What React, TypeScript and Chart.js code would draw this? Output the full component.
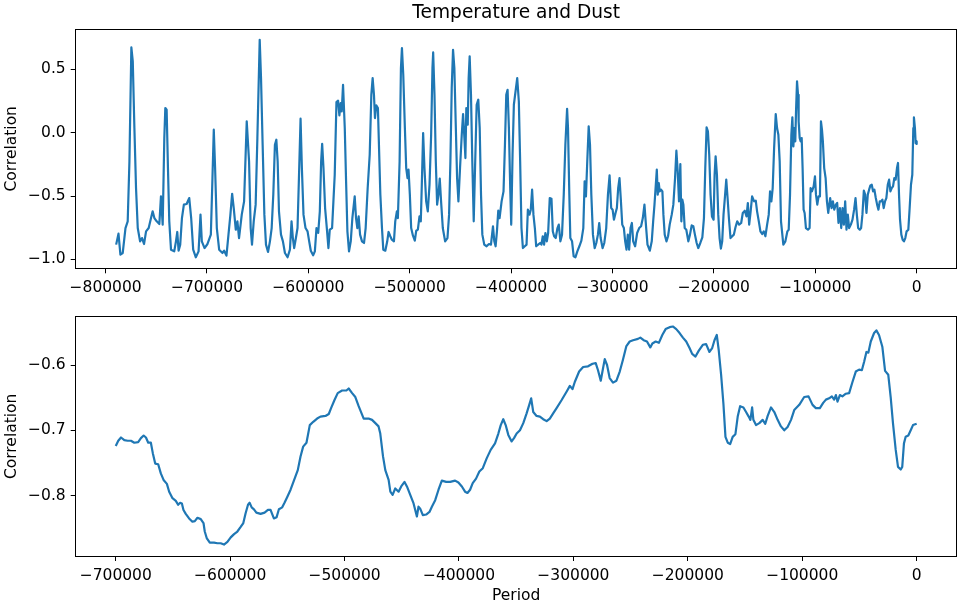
import { useEffect, useRef } from "react";
import { Chart, registerables } from "chart.js";

Chart.register(...registerables);

// Upper panel: running correlation of temperature and dust (years before present)
const tempDustYears = [
  -789600, -787300, -785400, -783100, -780400, -778200, -776500, -774600, -773200, -771600,
  -770000, -768300, -766000, -764100, -762100, -760100, -757500, -755200, -753600, -751900,
  -749600, -747000, -745400, -743700, -742100, -741100, -739800, -738500, -737200, -735500,
  -732300, -730600, -729300, -728000, -726400, -724700, -722800, -720100, -717500, -715600,
  -713600, -711000, -708300, -706400, -705100, -702400, -699500, -696200, -694600, -693300,
  -692000, -690300, -688000, -684700, -683100, -680800, -678800, -676900, -675200, -673600,
  -671600, -670000, -668400, -665700, -663400, -660800,
  -658500, -656900, -655600, -653900, -652000, -650300, -648000, -646700, -645100, -643400,
  -641800, -639800, -637900, -636200, -634600, -633000, -631600, -630300, -629000, -627000,
  -625100, -623100, -620500, -618200, -616600, -615300, -614000, -612300, -610700, -609300,
  -607700, -606400, -604800, -602800, -600800, -599200, -597600, -595300, -593600, -592000,
  -590300, -588700, -587400, -586400, -585100, -583500, -581800, -580200, -578900, -576600,
  -575300, -574000, -572300, -570700, -569400, -568100, -567100, -565800, -564100, -562800,
  -561500, -559900, -558200, -556600, -554300, -553000, -551700, -550400, -549000, -547100,
  -545100, -543500, -541500, -539500, -537900, -536600, -535300, -534300, -533000, -531400,
  -529000, -527400, -526100, -524100, -522200, -520900, -519200, -517600, -515600, -514300,
  -512700, -511700, -510000, -508700, -507700, -506400, -504800, -503500, -502200, -501200,
  -499900, -498600, -496900, -495000, -493600, -492000, -490400, -489100, -488100, -486800,
  -485500, -483800, -482200, -480500, -478900, -477600, -476900, -475600, -474300, -473000,
  -471700, -470400, -469100, -467400, -465100, -462800, -461200, -459900, -458600, -457300,
  -456000, -454700, -453300, -452000, -450400, -448700, -447400, -446100, -445100, -444200,
  -442800, -441900, -440900, -439600, -438300, -436900, -435600, -434000, -432400, -431000,
  -429700, -428400, -426500, -424200, -421900, -419900, -417900, -416600, -415300, -414000,
  -412700, -411400, -409400, -407500, -406100, -404800, -403500, -402200, -400900, -399900,
  -398600, -397300,
  -394000, -392400, -391100, -389800, -388400, -386500, -384800, -383500, -381900, -380600,
  -379300, -378000, -376600, -375300, -373400, -371400, -370100, -368800, -367500, -366200,
  -364800, -363500, -361900, -360200, -358900, -357600, -356000, -354300, -353000, -351400,
  -349800, -348100, -346500, -344800, -343900, -342600, -341600, -339900, -338300, -336600,
  -334700, -332700, -330700, -328800, -327500, -326200, -324900, -323500, -322200, -320900,
  -319300, -317600, -316000, -314400, -313100, -311700, -309800, -308100, -306200, -304500,
  -302900, -301300, -299900, -298600, -297000, -295700, -294400, -293100, -291700, -290400,
  -288800, -287500, -286200, -284900, -283600, -282200, -280900, -279600, -277700, -275700,
  -273700, -271800, -270100, -268500, -266800, -265500,
  -263200, -261300, -259900, -258600, -257300, -256300, -255400, -254400, -253400, -252100,
  -250800, -249800, -248500, -246800, -245200, -243600, -241600, -240000, -238300, -237000,
  -235700, -234400, -233100, -232100, -231100, -230100, -228800, -227200, -225200, -223600,
  -221900, -220300, -218700, -217000, -215400, -213400, -211400, -209800, -208500, -207200,
  -205900, -204600, -203300, -201900, -200300, -199300, -198300, -197000, -195700, -194400,
  -193100, -191800, -190500, -189200, -187800, -186500, -185200, -183600, -181900, -180300,
  -178700, -177000, -175100, -173100, -171500, -169500, -167800, -166500, -165200, -163900,
  -162300, -160300, -158700, -157400, -155700, -154100, -152400, -150800, -149200, -147500,
  -145900, -144600, -143300, -142000, -140600, -139000, -137700, -136400, -135100, -133800,
  -131500, -129500, -127500, -126200, -124900, -123600, -122600, -121600, -120700, -119700,
  -119000, -118000, -117000, -116400, -115400, -114400, -113400, -112500, -111500, -110500,
  -109200, -107200, -105600, -104600, -103300, -101600, -100300, -99300, -98000, -96700,
  -95400, -94400, -93400, -92500, -91200, -89800, -88500, -87200, -86200, -85300,
  -83900, -82600, -81300, -79700, -78400, -77100, -75700, -74400, -73100, -71800,
  -70500, -69200, -67900, -66600, -64900, -63300, -61700, -60300, -59000, -57700,
  -56100, -54800, -53500, -52100, -50800, -49500, -48200, -46900, -45600, -44300,
  -43000, -41700, -40300, -39000, -37700, -36400, -35100, -33800, -32500, -31200,
  -29900, -28500, -27200, -25900, -24600, -23300, -22000, -20700, -19400, -18400,
  -17400, -16400, -15100, -13800, -12500, -11200, -9900, -8200, -6900, -5600,
  -4300, -3300, -2700, -1700, -1000, -500, 0,
];

const tempDustCorr = [
  -0.884, -0.797, -0.963, -0.95, -0.753, -0.7, -0.226, 0.674, 0.563, 0.037,
  -0.437, -0.753, -0.858, -0.832, -0.879, -0.779, -0.753, -0.674, -0.621, -0.674,
  -0.7, -0.721, -0.503, -0.726, -0.042, 0.195, 0.182, -0.279, -0.7, -0.924,
  -0.937, -0.858, -0.784, -0.932, -0.884, -0.674, -0.568, -0.563, -0.516, -0.674,
  -0.924, -0.984, -0.937, -0.647, -0.858, -0.911, -0.879, -0.805, -0.358, 0.024,
  -0.279, -0.753, -0.924, -0.95, -0.932, -0.971, -0.805, -0.647, -0.482, -0.595,
  -0.766, -0.7, -0.832, -0.647, -0.542, 0.09,
  -0.226, -0.753, -0.884, -0.7, -0.568, -0.042, 0.734, 0.432, -0.095, -0.647,
  -0.884, -0.942, -0.858, -0.753, -0.489, -0.095, -0.055, -0.226, -0.621, -0.805,
  -0.858, -0.95, -0.984, -0.924, -0.7, -0.832, -0.911, -0.832, -0.753, -0.358,
  0.111, -0.279, -0.647, -0.753, -0.779, -0.858, -0.932, -0.968, -0.937, -0.753,
  -0.792, -0.621, -0.226, -0.087, -0.279, -0.595, -0.753, -0.911, -0.766, -0.753,
  -0.542, -0.332, 0.242, 0.253, 0.137, 0.234, 0.168, 0.379, 0.037, -0.384,
  -0.779, -0.937, -0.858, -0.674, -0.503, -0.674, -0.753, -0.661, -0.805, -0.858,
  -0.871, -0.753, -0.437, -0.174, 0.3, 0.432, 0.3, 0.116, 0.216, 0.195,
  -0.489, -0.753, -0.924, -0.932, -0.858, -0.784, -0.818, -0.845, -0.858, -0.7,
  -0.621, -0.674, -0.226, 0.511, 0.668, 0.458, 0.037, -0.279, -0.358, -0.292,
  -0.489, -0.753, -0.811, -0.853, -0.774, -0.766, -0.661, -0.7, -0.411, -0.003,
  -0.279, -0.542, -0.621, -0.411, -0.016, 0.511, 0.634, 0.3, -0.226, -0.568,
  -0.489, -0.363, -0.542, -0.753, -0.858, -0.832, -0.647, -0.226, 0.353, 0.655,
  0.511, 0.089, -0.358, -0.542, -0.279, -0.016, 0.147, -0.042, -0.2, 0.195,
  0.063, 0.432, 0.603, 0.3, -0.226, -0.7, -0.279, 0.221, 0.261, 0.037,
  -0.489, -0.805, -0.884, -0.897, -0.879, -0.884, -0.739, -0.858, -0.897, -0.779,
  -0.616, -0.674, -0.542, -0.463, -0.095, 0.3, 0.339, 0.037, -0.437, -0.726,
  -0.174, 0.221,
  0.432, 0.247, -0.226, -0.753, -0.911, -0.897, -0.884, -0.608, -0.647, -0.608,
  -0.45, -0.647, -0.753, -0.897, -0.884, -0.871, -0.884, -0.818, -0.884, -0.792,
  -0.858, -0.792, -0.516, -0.521, -0.779, -0.818, -0.832, -0.753, -0.726, -0.858,
  -0.805, -0.489, -0.095, 0.189, 0.037, -0.489, -0.832, -0.858, -0.976, -0.984,
  -0.937, -0.897, -0.853, -0.753, -0.384, -0.503, -0.226, 0.05, -0.095, -0.489,
  -0.805, -0.911, -0.871, -0.805, -0.713, -0.832, -0.911, -0.871, -0.753, -0.489,
  -0.337, -0.595, -0.608, -0.687, -0.634, -0.595, -0.437, -0.358, -0.542, -0.726,
  -0.753, -0.858, -0.924, -0.805, -0.924, -0.753, -0.713, -0.858, -0.897, -0.792,
  -0.753, -0.739, -0.674, -0.568, -0.753, -0.884,
  -0.932, -0.858, -0.7, -0.568, -0.411, -0.292, -0.489, -0.397, -0.463, -0.45,
  -0.463, -0.647, -0.805, -0.858, -0.818, -0.726, -0.647, -0.568, -0.358, -0.142,
  -0.305, -0.542, -0.247, -0.7, -0.529, -0.568, -0.753, -0.766, -0.858, -0.805,
  -0.732, -0.739, -0.805, -0.871, -0.911, -0.871, -0.826, -0.674, -0.279, 0.042,
  0.011, -0.174, -0.489, -0.661, -0.687, -0.332, -0.187, -0.332, -0.647, -0.832,
  -0.916, -0.858, -0.647, -0.516, -0.371, -0.516, -0.674, -0.832, -0.818, -0.805,
  -0.747, -0.7, -0.726, -0.713, -0.634, -0.616, -0.661, -0.555, -0.726, -0.634,
  -0.503, -0.542, -0.537, -0.621, -0.7, -0.779, -0.8, -0.779, -0.818, -0.726,
  -0.647, -0.463, -0.542, -0.437, -0.121, 0.147, 0.037, -0.016, -0.226, -0.7,
  -0.884, -0.858, -0.779, -0.766, -0.489, -0.016, 0.121, -0.108, 0.037, -0.068,
  0.168, 0.405, 0.3, 0.089, -0.042, -0.068, -0.042, -0.279, -0.608, -0.634,
  -0.753, -0.766, -0.753, -0.437, -0.463, -0.424, -0.345, -0.489, -0.568, -0.503,
  -0.503, 0.089, 0.024, -0.068, -0.279, -0.358, -0.542, -0.634, -0.568, -0.516,
  -0.595, -0.542, -0.608, -0.568, -0.555, -0.713, -0.595, -0.753, -0.595, -0.726,
  -0.542, -0.766, -0.647, -0.753, -0.726, -0.687, -0.608, -0.516, -0.647, -0.753,
  -0.766, -0.753, -0.647, -0.458, -0.489, -0.634, -0.489, -0.45, -0.416, -0.411,
  -0.463, -0.45, -0.516, -0.568, -0.608, -0.542, -0.542, -0.529, -0.595, -0.542,
  -0.516, -0.411, -0.371, -0.463, -0.437, -0.424, -0.358, -0.371, -0.279, -0.239,
  -0.489, -0.687, -0.805, -0.845, -0.858, -0.832, -0.779, -0.766, -0.595, -0.411,
  -0.332, 0.037, 0.121, 0.037, -0.082, -0.068, -0.089,
];

// Lower panel: windowed correlation by period
const periodYears = [
  -700000, -697800, -695400, -692500, -689600, -686700, -683800, -680400, -678000, -675600,
  -673600, -671600, -669300, -667600, -665500, -662900, -660600, -658200, -655300, -653300,
  -650400, -647500, -645500, -643700, -642200, -640800, -638800, -635900, -633000, -630900,
  -628600, -625700, -623300, -622200, -620500, -617800, -614100, -611100, -608300, -605400,
  -602400, -599500, -596600, -593700, -590800, -588500, -586500, -584400, -583000, -581200,
  -579200, -577100, -573400, -569900, -567000, -564700, -561800, -559400, -557400, -554500,
  -552500, -550100, -547200, -544300, -540900, -538500, -536200, -533300, -530400, -527400,
  -524000, -521100, -516700, -513800, -511800, -508900, -506000, -502200, -498400, -496400,
  -493400, -490600, -487700, -483300, -479000, -476000, -473100, -470300, -468800, -466400,
  -464400, -461500, -460000, -458000, -455700, -452800, -450500, -447600, -445500, -442600,
  -439700, -436800, -435400, -433900, -431600, -428700, -425800, -423700, -420800, -417900,
  -415000, -411200, -407700, -403400, -400500, -397500, -394700, -392600, -390300, -388000,
  -385100, -382200, -379200, -375800, -372300, -368500, -365600, -363500, -361300, -359200,
  -356900, -354000, -351900, -349600, -346700, -343800, -340900, -338600, -336900, -335100,
  -332200, -329300, -326400, -323400, -320600, -317700, -314700, -310400, -306000, -303100,
  -300800, -298800, -295000, -291500, -287200, -283300, -280500, -278500, -276100, -274100,
  -272600, -270600, -268300, -265400, -262400, -259500, -256700, -253700, -250800, -247900,
  -243600, -241500, -238600, -235700, -232800, -231000, -228100, -225300, -222300, -219400,
  -215900, -213100, -210100, -207200, -204300, -201400, -198500, -196200, -193300, -190400,
  -186900, -184000, -181100, -178700, -176700, -174700, -173000, -170900, -168900, -167100,
  -165100, -163000, -160800, -158400, -156400, -154300, -151400, -149100, -146800, -145300,
  -143800, -142700, -140400, -137500, -134600, -132300, -130200, -127300, -124400, -121500,
  -118600, -115700, -112800, -109800, -107000, -102600, -98300, -94500, -91000, -88100,
  -84600, -81700, -79300, -76500, -74100, -72100, -70600, -69200, -67100, -64900,
  -61900, -59000, -56100, -53200, -50300, -47900, -45900, -43900, -42200, -40100,
  -37200, -35200, -32900, -30000, -27600, -24800, -22700, -20700, -18300, -16300,
  -13900, -12600, -11100, -9600, -7300, -5200, -3200, 0,
];

const periodCorr = [
  -0.724, -0.716, -0.711, -0.715, -0.716, -0.716, -0.719, -0.718, -0.712, -0.708,
  -0.711, -0.719, -0.719, -0.735, -0.751, -0.752, -0.766, -0.776, -0.782, -0.794,
  -0.804, -0.808, -0.814, -0.811, -0.812, -0.822, -0.828, -0.835, -0.84, -0.839,
  -0.834, -0.836, -0.842, -0.855, -0.865, -0.872, -0.872, -0.873, -0.873, -0.875,
  -0.871, -0.864, -0.859, -0.855, -0.848, -0.842, -0.827, -0.814, -0.811, -0.818,
  -0.821, -0.826, -0.828, -0.826, -0.822, -0.822, -0.835, -0.833, -0.821, -0.818,
  -0.811, -0.802, -0.791, -0.777, -0.761, -0.74, -0.725, -0.719, -0.692, -0.687,
  -0.682, -0.679, -0.678, -0.675, -0.666, -0.654, -0.643, -0.639, -0.639, -0.636,
  -0.643, -0.649, -0.663, -0.682, -0.682, -0.684, -0.689, -0.694, -0.705, -0.74,
  -0.761, -0.776, -0.794, -0.799, -0.789, -0.794, -0.786, -0.779, -0.786, -0.799,
  -0.812, -0.832, -0.817, -0.82, -0.83, -0.829, -0.825, -0.817, -0.807, -0.791,
  -0.777, -0.779, -0.779, -0.777, -0.78, -0.786, -0.794, -0.796, -0.791, -0.781,
  -0.774, -0.763, -0.758, -0.743, -0.73, -0.72, -0.705, -0.692, -0.683, -0.692,
  -0.707, -0.717, -0.712, -0.705, -0.7, -0.689, -0.674, -0.661, -0.651, -0.672,
  -0.678, -0.679, -0.683, -0.686, -0.682, -0.674, -0.666, -0.654, -0.641, -0.632,
  -0.637, -0.626, -0.61, -0.603, -0.602, -0.598, -0.597, -0.608, -0.624, -0.605,
  -0.591, -0.6, -0.62, -0.627, -0.624, -0.61, -0.592, -0.571, -0.564, -0.562,
  -0.56, -0.558, -0.562, -0.564, -0.573, -0.567, -0.564, -0.566, -0.554, -0.545,
  -0.542, -0.541, -0.545, -0.551, -0.558, -0.564, -0.574, -0.583, -0.587, -0.578,
  -0.569, -0.568, -0.58, -0.574, -0.562, -0.554, -0.577, -0.615, -0.659, -0.71,
  -0.719, -0.721, -0.71, -0.706, -0.679, -0.663, -0.665, -0.672, -0.679, -0.684,
  -0.665, -0.684, -0.692, -0.689, -0.684, -0.69, -0.678, -0.665, -0.672, -0.684,
  -0.694, -0.7, -0.695, -0.684, -0.669, -0.661, -0.649, -0.648, -0.661, -0.666,
  -0.666, -0.658, -0.653, -0.651, -0.648, -0.653, -0.646, -0.656, -0.646, -0.648,
  -0.644, -0.643, -0.626, -0.61, -0.607, -0.608, -0.595, -0.58, -0.581, -0.564,
  -0.551, -0.547, -0.554, -0.572, -0.609, -0.615, -0.649, -0.689, -0.73, -0.756,
  -0.76, -0.756, -0.72, -0.71, -0.708, -0.7, -0.692, -0.69,
];

// Axis ticks
const upperXTicks = [-800000, -700000, -600000, -500000, -400000, -300000, -200000, -100000, 0];
const upperYTicks = [-1.0, -0.5, 0.0, 0.5];
const lowerXTicks = [-700000, -600000, -500000, -400000, -300000, -200000, -100000, 0];
const lowerYTicks = [-0.8, -0.7, -0.6];

const LINE_COLOR = "#1f77b4";
const FONT_FAMILY = "'DejaVu Sans', 'Liberation Sans', sans-serif";
const TICK_FONT = 15.5;
const TITLE_FONT = 18.6;
const WIDTH = 958;
const AXIS_WIDTH = 75.7;
const AREA_RIGHT = 956.7;

const withMinus = (digits: number) => (v: number | string) => {
  const n = Number(v);
  const s = Math.abs(n).toFixed(digits);
  return n < 0 ? "\u2212" + s : s;
};

// Draws the four spines around the plotting area
const framePlugin = {
  id: "axesFrame",
  afterDraw(chart: any) {
    const { ctx, chartArea } = chart;
    const l = Math.floor(chartArea.left) + 0.5;
    const t = Math.floor(chartArea.top) + 0.5;
    const r = Math.floor(chartArea.right) + 0.5;
    const b = Math.floor(chartArea.bottom) + 0.5;
    ctx.save();
    ctx.strokeStyle = "#000";
    ctx.lineWidth = 1;
    ctx.strokeRect(l, t, r - l, b - t);
    ctx.restore();
  },
};

type PanelSpec = {
  xs: number[];
  ys: number[];
  xMin: number;
  xMax: number;
  yMin: number;
  yMax: number;
  xTicks: number[];
  yTicks: number[];
  yDigits: number;
  height: number;
  areaTop: number;
  areaBottom: number;
  title?: string;
  xTitle?: string;
};

function buildConfig(p: PanelSpec): any {
  const points = p.xs.map((x, i) => ({ x, y: p.ys[i] }));
  const tickFont = { family: FONT_FAMILY, size: TICK_FONT };
  const titleLine = TITLE_FONT * 1.2;
  return {
    type: "line",
    data: {
      datasets: [
        {
          data: points,
          borderColor: LINE_COLOR,
          borderWidth: 2.2,
          pointRadius: 0,
          tension: 0,
          borderJoinStyle: "round",
          fill: false,
        },
      ],
    },
    options: {
      responsive: false,
      animation: false,
      devicePixelRatio: 1,
      layout: {
        padding: { left: 0, right: WIDTH - AREA_RIGHT, top: p.title ? 0 : p.areaTop, bottom: 0 },
      },
      plugins: {
        legend: { display: false },
        tooltip: { enabled: false },
        title: p.title
          ? {
              display: true,
              text: p.title,
              color: "#000",
              fullSize: false,
              font: { family: FONT_FAMILY, size: TITLE_FONT, weight: "normal" },
              padding: { top: 2.0, bottom: p.areaTop - 2.0 - titleLine },
            }
          : { display: false },
      },
      scales: {
        x: {
          type: "linear",
          min: p.xMin,
          max: p.xMax,
          afterBuildTicks: (s: any) => {
            s.ticks = p.xTicks.map((value) => ({ value }));
          },
          afterFit: (s: any) => {
            s.height = p.height - p.areaBottom;
          },
          ticks: {
            color: "#000",
            font: tickFont,
            padding: 5.5,
            maxRotation: 0,
            autoSkip: false,
            callback: withMinus(0),
          },
          grid: {
            display: true,
            drawOnChartArea: false,
            drawTicks: true,
            tickLength: 5,
            color: "#000",
            lineWidth: 1,
          },
          border: { display: false },
          title: p.xTitle
            ? {
                display: true,
                text: p.xTitle,
                color: "#000",
                font: { family: FONT_FAMILY, size: TICK_FONT },
                padding: { top: 0, bottom: 0.6 },
              }
            : { display: false },
        },
        y: {
          type: "linear",
          min: p.yMin,
          max: p.yMax,
          afterBuildTicks: (s: any) => {
            s.ticks = p.yTicks.map((value) => ({ value }));
          },
          afterFit: (s: any) => {
            s.width = AXIS_WIDTH;
          },
          ticks: {
            color: "#000",
            font: tickFont,
            padding: 5,
            autoSkip: false,
            callback: withMinus(p.yDigits),
          },
          grid: {
            display: true,
            drawOnChartArea: false,
            drawTicks: true,
            tickLength: 5,
            color: "#000",
            lineWidth: 1,
          },
          border: { display: false },
          title: {
            display: true,
            text: "Correlation",
            color: "#000",
            font: { family: FONT_FAMILY, size: TICK_FONT },
            padding: { top: 2.7, bottom: 0 },
          },
        },
      },
    },
    plugins: [framePlugin],
  };
}

function Panel({ spec, top }: { spec: PanelSpec; top: number }) {
  const ref = useRef<HTMLCanvasElement | null>(null);
  useEffect(() => {
    if (!ref.current) return;
    const chart = new Chart(ref.current, buildConfig(spec));
    return () => chart.destroy();
  }, [spec]);
  return (
    <canvas
      ref={ref}
      width={WIDTH}
      height={spec.height}
      style={{ position: "absolute", left: 0, top, width: WIDTH, height: spec.height }}
    />
  );
}

const upperSpec: PanelSpec = {
  xs: tempDustYears,
  ys: tempDustCorr,
  xMin: -829500,
  xMax: 39500,
  yMin: -1.071,
  yMax: 0.817,
  xTicks: upperXTicks,
  yTicks: upperYTicks,
  yDigits: 1,
  height: 300,
  areaTop: 29.3,
  areaBottom: 268.3,
  title: "Temperature and Dust",
};

const lowerSpec: PanelSpec = {
  xs: periodYears,
  ys: periodCorr,
  xMin: -735000,
  xMax: 35000,
  yMin: -0.8925,
  yMax: -0.526,
  xTicks: lowerXTicks,
  yTicks: lowerYTicks,
  yDigits: 1,
  height: 306,
  areaTop: 16.7,
  areaBottom: 256,
  xTitle: "Period",
};

export default function App() {
  return (
    <div
      style={{
        position: "absolute",
        left: 0,
        top: 0,
        width: WIDTH,
        height: 606,
        background: "#fff",
        overflow: "hidden",
      }}
    >
      <Panel spec={upperSpec} top={0} />
      <Panel spec={lowerSpec} top={300} />
    </div>
  );
}
